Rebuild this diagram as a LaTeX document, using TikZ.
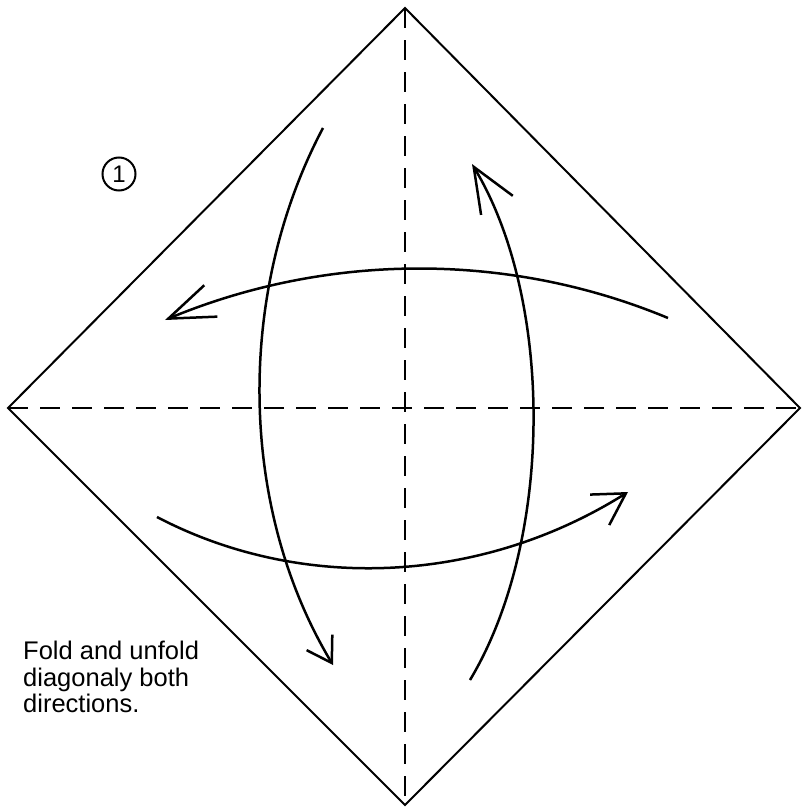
\documentclass[tikz,border=0pt]{standalone}
\usepackage{fontspec}
\setmainfont{Liberation Sans}
\usetikzlibrary{arrows.meta}

\begin{document}
\begin{tikzpicture}[
  x=1pt,y=-1pt,
  edge/.style={line width=2pt,line join=miter},
  crease/.style={line width=2.2pt,dash pattern=on 20pt off 12pt},
  barb/.style 2 args={line width=2.5pt,-{Straight Barb[length=#1pt,width=#2pt]}},
  stepmark/.style={circle,draw,line width=2pt,minimum size=33pt,inner sep=0pt,font=\fontsize{24}{24}\selectfont},
  caption/.style={anchor=north west,align=left,inner sep=0pt,font=\fontsize{25.5}{26.5}\selectfont}
]
\useasboundingbox (0,0) rectangle (802,811);
% corners of the square
\coordinate (top) at (405,8);
\coordinate (right) at (800,408);
\coordinate (bottom) at (405,805);
\coordinate (left) at (8,408);
\draw[edge] (top) -- (right) -- (bottom) -- (left) -- cycle;
\draw[crease] (top) -- (bottom);
\draw[crease] (left) -- (right);
% arrow ends
\coordinate (upS) at (668,318);
\coordinate (upE) at (165,320);
\coordinate (lowS) at (157,517);
\coordinate (lowE) at (628,492);
\coordinate (westS) at (323,128);
\coordinate (westE) at (333,665);
\coordinate (eastS) at (470,680);
\coordinate (eastE) at (472,164);
\draw[barb={46}{34}] (upS) .. controls (507,251) and (326,253) .. (upE);
\draw[barb={31}{36}] (lowS) .. controls (300,592) and (480,585) .. (lowE);
\draw[barb={24}{30}] (westS) .. controls (237,290) and (237,505) .. (westE);
\draw[barb={45}{37}] (eastS) .. controls (554,540) and (554,300) .. (eastE);
\node[stepmark] (step) at (119,174) {1};
\node[caption] (note) at (23,641) {Fold and unfold\\diagonaly both\\directions.};
\end{tikzpicture}
\end{document}
